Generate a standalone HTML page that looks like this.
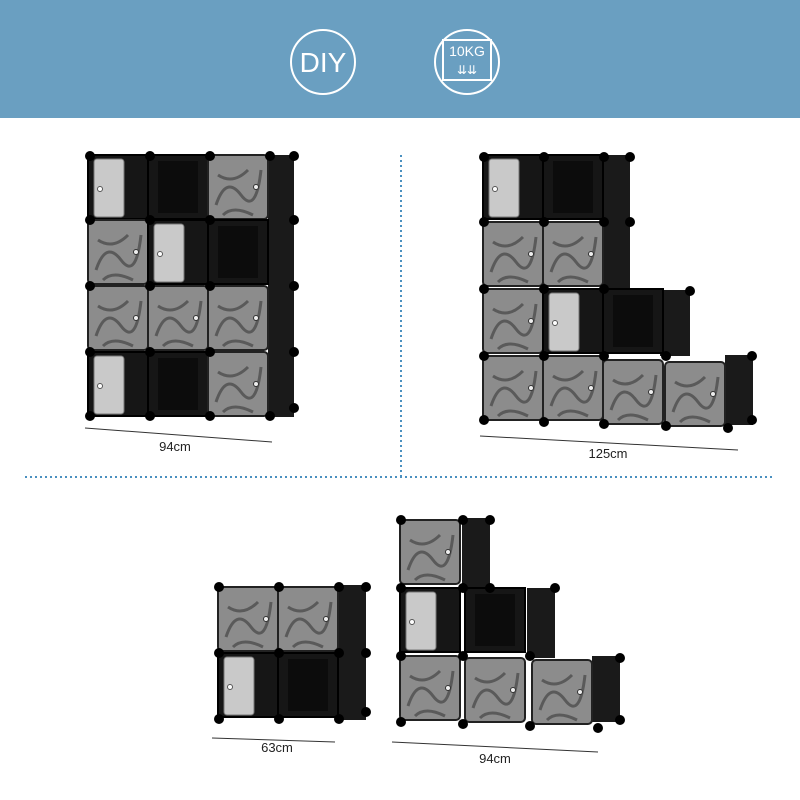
<!DOCTYPE html>
<html><head><meta charset="utf-8"><style>
html,body{margin:0;padding:0;background:#fff;}
svg{display:block;font-family:"Liberation Sans",sans-serif;}
</style></head><body>
<svg width="800" height="800" viewBox="0 0 800 800" xmlns="http://www.w3.org/2000/svg">
<defs>
<g id="door">
  <rect x="0" y="0" width="60" height="64" rx="4" fill="#8c8c8c" stroke="#222" stroke-width="2"/>
  <path d="M8 50 q10 -30 25 -10 t20 -25 M10 20 q15 10 30 -5 M15 60 q10 -10 30 0" stroke="#5a5a5a" stroke-width="3" fill="none"/>
  <circle cx="48" cy="32" r="2.5" fill="#eee" stroke="#333"/>
</g>
<g id="open">
  <rect x="0" y="0" width="60" height="64" fill="#161616" stroke="#000" stroke-width="2"/>
  <rect x="10" y="6" width="40" height="52" fill="#0c0c0c"/>
</g>
<g id="opend">
  <rect x="0" y="0" width="60" height="64" fill="#161616" stroke="#000" stroke-width="2"/>
  <rect x="6" y="4" width="30" height="58" rx="3" fill="#c9c9c9" stroke="#777"/>
  <circle cx="12" cy="34" r="2.5" fill="#fff" stroke="#555"/>
</g>
</defs>
<rect x="0" y="0" width="800" height="118" fill="#6a9fc1"/>
<circle cx="323" cy="62" r="32" fill="none" stroke="#fff" stroke-width="2"/>
<text x="323" y="72" text-anchor="middle" font-size="28" fill="#fff">DIY</text>
<circle cx="467" cy="62" r="32" fill="none" stroke="#fff" stroke-width="2"/>
<rect x="443" y="40" width="48" height="40" fill="none" stroke="#fff" stroke-width="2"/>
<text x="467" y="56" text-anchor="middle" font-size="14" fill="#fff">10KG</text>
<text x="467" y="74" text-anchor="middle" font-size="12" fill="#fff">⇊⇊</text>

<line x1="401" y1="155" x2="401" y2="476" stroke="#4a90c0" stroke-width="2" stroke-dasharray="2,3"/>
<line x1="25" y1="477" x2="775" y2="477" stroke="#4a90c0" stroke-width="2" stroke-dasharray="2,3"/>

<!-- Cabinet 1 -->
<rect x="268" y="155" width="26" height="262" fill="#1a1a1a"/>
<g>
<use href="#opend" x="88" y="155"/><use href="#open" x="148" y="155"/><use href="#door" x="208" y="155"/>
<use href="#door" x="88" y="220"/><use href="#opend" x="148" y="220"/><use href="#open" x="208" y="220"/>
<use href="#door" x="88" y="286"/><use href="#door" x="148" y="286"/><use href="#door" x="208" y="286"/>
<use href="#opend" x="88" y="352"/><use href="#open" x="148" y="352"/><use href="#door" x="208" y="352"/>
</g>
<g fill="#000">
<circle cx="90" cy="156" r="5"/><circle cx="150" cy="156" r="5"/><circle cx="210" cy="156" r="5"/><circle cx="270" cy="156" r="5"/><circle cx="294" cy="156" r="5"/>
<circle cx="90" cy="220" r="5"/><circle cx="150" cy="220" r="5"/><circle cx="210" cy="220" r="5"/><circle cx="294" cy="220" r="5"/>
<circle cx="90" cy="286" r="5"/><circle cx="150" cy="286" r="5"/><circle cx="210" cy="286" r="5"/><circle cx="294" cy="286" r="5"/>
<circle cx="90" cy="352" r="5"/><circle cx="150" cy="352" r="5"/><circle cx="210" cy="352" r="5"/><circle cx="294" cy="352" r="5"/>
<circle cx="90" cy="416" r="5"/><circle cx="150" cy="416" r="5"/><circle cx="210" cy="416" r="5"/><circle cx="270" cy="416" r="5"/><circle cx="294" cy="408" r="5"/>
</g>
<line x1="85" y1="428" x2="272" y2="442" stroke="#333" stroke-width="1"/>
<text x="175" y="451" text-anchor="middle" font-size="13" fill="#222">94cm</text>

<!-- Cabinet 2 -->
<rect x="600" y="155" width="30" height="135" fill="#1a1a1a"/>
<rect x="660" y="290" width="30" height="66" fill="#1a1a1a"/>
<rect x="725" y="355" width="28" height="70" fill="#1a1a1a"/>
<use href="#opend" x="483" y="155"/><use href="#open" x="543" y="155"/>
<use href="#door" x="483" y="222"/><use href="#door" x="543" y="222"/>
<use href="#door" x="483" y="289"/><use href="#opend" x="543" y="289"/><use href="#open" x="603" y="289"/>
<use href="#door" x="483" y="356"/><use href="#door" x="543" y="356"/><use href="#door" x="603" y="360"/><use href="#door" x="665" y="362"/>
<g fill="#000">
<circle cx="484" cy="157" r="5"/><circle cx="544" cy="157" r="5"/><circle cx="604" cy="157" r="5"/><circle cx="630" cy="157" r="5"/>
<circle cx="484" cy="222" r="5"/><circle cx="544" cy="222" r="5"/><circle cx="604" cy="222" r="5"/><circle cx="630" cy="222" r="5"/>
<circle cx="484" cy="289" r="5"/><circle cx="544" cy="289" r="5"/><circle cx="604" cy="289" r="5"/><circle cx="690" cy="291" r="5"/>
<circle cx="484" cy="356" r="5"/><circle cx="544" cy="356" r="5"/><circle cx="604" cy="356" r="5"/><circle cx="666" cy="356" r="5"/><circle cx="752" cy="356" r="5"/>
<circle cx="484" cy="420" r="5"/><circle cx="544" cy="422" r="5"/><circle cx="604" cy="424" r="5"/><circle cx="666" cy="426" r="5"/><circle cx="728" cy="428" r="5"/><circle cx="752" cy="420" r="5"/>
</g>
<line x1="480" y1="436" x2="738" y2="450" stroke="#333" stroke-width="1"/>
<text x="608" y="458" text-anchor="middle" font-size="13" fill="#222">125cm</text>

<!-- Cabinet 3 -->
<rect x="338" y="585" width="28" height="135" fill="#1a1a1a"/>
<use href="#door" x="218" y="587"/><use href="#door" x="278" y="587"/>
<use href="#opend" x="218" y="653"/><use href="#open" x="278" y="653"/>
<g fill="#000">
<circle cx="219" cy="587" r="5"/><circle cx="279" cy="587" r="5"/><circle cx="339" cy="587" r="5"/><circle cx="366" cy="587" r="5"/>
<circle cx="219" cy="653" r="5"/><circle cx="279" cy="653" r="5"/><circle cx="339" cy="653" r="5"/><circle cx="366" cy="653" r="5"/>
<circle cx="219" cy="719" r="5"/><circle cx="279" cy="719" r="5"/><circle cx="339" cy="719" r="5"/><circle cx="366" cy="712" r="5"/>
</g>
<line x1="212" y1="738" x2="335" y2="742" stroke="#333" stroke-width="1"/>
<text x="277" y="752" text-anchor="middle" font-size="13" fill="#222">63cm</text>

<!-- Cabinet 4 -->
<rect x="462" y="518" width="28" height="70" fill="#1a1a1a"/>
<rect x="527" y="588" width="28" height="70" fill="#1a1a1a"/>
<rect x="592" y="656" width="28" height="66" fill="#1a1a1a"/>
<use href="#door" x="400" y="520"/>
<use href="#opend" x="400" y="588"/><use href="#open" x="465" y="588"/>
<use href="#door" x="400" y="656"/><use href="#door" x="465" y="658"/><use href="#door" x="532" y="660"/>
<g fill="#000">
<circle cx="401" cy="520" r="5"/><circle cx="463" cy="520" r="5"/><circle cx="490" cy="520" r="5"/>
<circle cx="401" cy="588" r="5"/><circle cx="463" cy="588" r="5"/><circle cx="490" cy="588" r="5"/><circle cx="555" cy="588" r="5"/>
<circle cx="401" cy="656" r="5"/><circle cx="463" cy="656" r="5"/><circle cx="530" cy="656" r="5"/><circle cx="620" cy="658" r="5"/>
<circle cx="401" cy="722" r="5"/><circle cx="463" cy="724" r="5"/><circle cx="530" cy="726" r="5"/><circle cx="598" cy="728" r="5"/><circle cx="620" cy="720" r="5"/>
</g>
<line x1="392" y1="742" x2="598" y2="752" stroke="#333" stroke-width="1"/>
<text x="495" y="763" text-anchor="middle" font-size="13" fill="#222">94cm</text>
</svg>
</body></html>
